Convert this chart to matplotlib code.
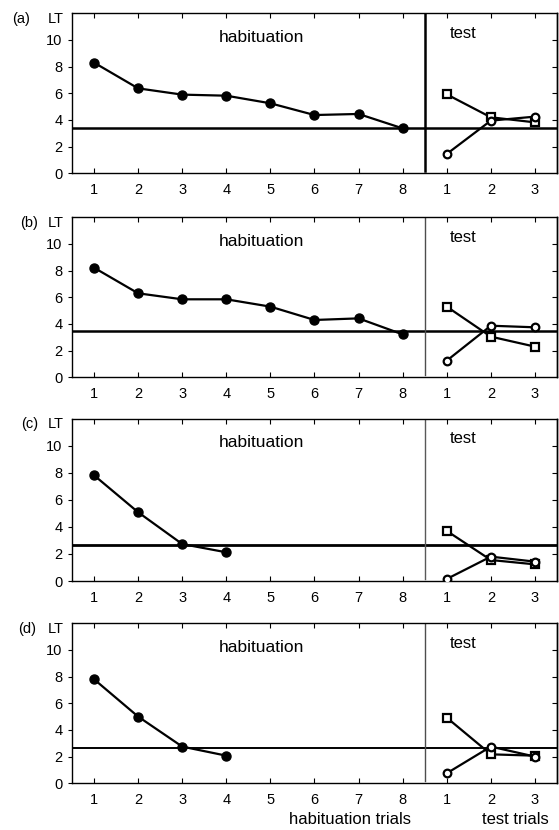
import numpy as np
import matplotlib
matplotlib.use("Agg")
import matplotlib.pyplot as plt

plt.rcParams["font.family"] = ["Liberation Sans", "DejaVu Sans"]
plt.rcParams["font.size"] = 10.5

# trial positions: 1..8 habituation, 9..11 test
hab_x = [1, 2, 3, 4, 5, 6, 7, 8]
test_x = [9, 10, 11]
tick_labels = ["1", "2", "3", "4", "5", "6", "7", "8", "1", "2", "3"]
panel_names = ["(a)", "(b)", "(c)", "(d)"]

# looking times
hab_a = [8.3, 6.37, 5.9, 5.82, 5.25, 4.37, 4.45, 3.37]
hab_b = [8.22, 6.3, 5.85, 5.85, 5.3, 4.3, 4.42, 3.22]
hab_c = [7.81, 5.08, 2.73, 2.12]
hab_d = [7.8, 5.0, 2.75, 2.07]

sq_a = [5.92, 4.2, 3.82]
sq_b = [5.3, 3.05, 2.3]
sq_c = [3.7, 1.55, 1.23]
sq_d = [4.92, 2.17, 2.07]

circ_a = [1.45, 3.95, 4.25]
circ_b = [1.25, 3.87, 3.75]
circ_c = [0.15, 1.8, 1.43]
circ_d = [0.75, 2.75, 2.0]

criterion = [3.42, 3.47, 2.64, 2.67]

hab_all = [hab_a, hab_b, hab_c, hab_d]
sq_all = [sq_a, sq_b, sq_c, sq_d]
circ_all = [circ_a, circ_b, circ_c, circ_d]

fig = plt.figure(figsize=(5.59, 8.30), dpi=100)

left, width = 0.1288, 0.8676
bottoms = [0.7912, 0.5454, 0.3000, 0.0563]
heights = [0.1928, 0.1928, 0.1957, 0.1928]
label_x = [-0.087, -0.070, -0.070, -0.074]
vline_w = [1.8, 1.0, 1.0, 1.0]
vline_c = ["black", "0.3", "0.35", "0.3"]
crit_w = [1.8, 1.8, 2.0, 1.4]

for i in range(4):
    ax = fig.add_axes([left, bottoms[i], width, heights[i]])
    ax.set_xlim(0.5, 11.5)
    ax.set_ylim(0, 12)

    ax.axhline(criterion[i], color="black", lw=crit_w[i], zorder=1)
    ax.axvline(8.5, ymin=0.012, ymax=1, color=vline_c[i], lw=vline_w[i], zorder=1)

    hx = hab_x[:len(hab_all[i])]
    ax.plot(hx, hab_all[i], color="black", lw=1.6, marker="o", ms=6.5,
            mfc="black", mec="black", zorder=3)
    ax.plot(test_x, sq_all[i], color="black", lw=1.6, marker="s", ms=5.5,
            mfc="white", mec="black", mew=1.6, zorder=3)
    ax.plot(test_x, circ_all[i], color="black", lw=1.6, marker="o", ms=5.5,
            mfc="white", mec="black", mew=1.6, zorder=3)

    ax.set_xticks(range(1, 12))
    ax.set_xticklabels(tick_labels)
    ax.set_yticks([0, 2, 4, 6, 8, 10])
    ax.tick_params(axis="x", direction="in", top=True, length=3.5, pad=7)
    ax.tick_params(axis="y", direction="out", length=3, pad=4)

    sec = ax.secondary_yaxis("right")
    sec.set_yticks([2, 4, 6, 8, 10])
    sec.tick_params(direction="in", length=3.5, labelright=False)

    for s in list(ax.spines.values()) + list(sec.spines.values()):
        s.set_linewidth(1.0)

    ax.text(4.8, 10.2, "habituation", ha="center", va="center", fontsize=12.5)
    ax.text(9.37, 10.5, "test", ha="center", va="center", fontsize=12)
    ax.text(-0.0165, 11.6, "LT", ha="right", va="center",
            transform=ax.get_yaxis_transform())
    ax.text(label_x[i], 11.6, panel_names[i], ha="right", va="center",
            transform=ax.get_yaxis_transform())

    if i == 3:
        ax.text(6.8, -2.75, "habituation trials", ha="center", va="center",
                fontsize=12)
        ax.text(10.55, -2.75, "test trials", ha="center", va="center",
                fontsize=12)

fig.savefig("out.png", dpi=100)
